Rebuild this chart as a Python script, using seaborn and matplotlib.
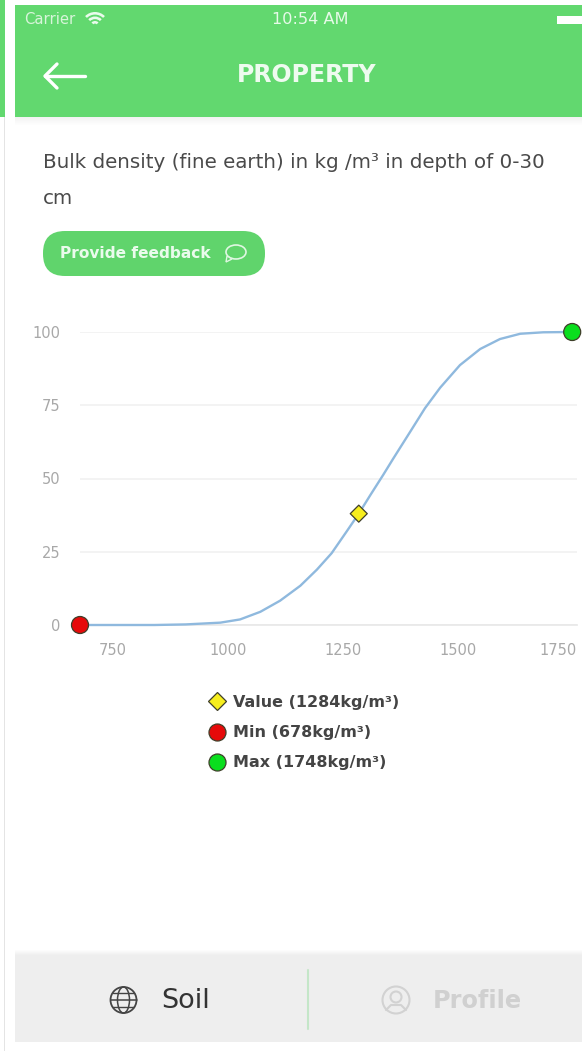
import matplotlib
matplotlib.use("Agg")
import matplotlib.pyplot as plt
from matplotlib.patches import Rectangle, FancyBboxPatch, Circle, Wedge, Ellipse, Polygon
from matplotlib.transforms import ScaledTranslation
import pandas as pd
import seaborn as sns

# curve
density = [678, 760, 840, 908, 983, 1026, 1070, 1113, 1157, 1193, 1225, 1258, 1284,
           1309, 1337, 1359, 1396, 1428, 1461, 1504, 1548, 1591, 1635, 1685, 1748]
percent = [0, 0, 0, 0.2, 0.8, 1.9, 4.5, 8.3, 13.4, 18.9, 24.5, 32, 38,
           44.3, 51.2, 56.8, 66, 74, 81, 88.7, 94.2, 97.6, 99.4, 99.9, 100]

marker_names = ["Value (1284kg/m³)", "Min (678kg/m³)", "Max (1748kg/m³)"]
marker_x = [1284, 678, 1748]
marker_y = [38, 0, 100]
marker_colors = ["#f7ee1e", "#e60a0a", "#0ade1e"]
marker_shapes = ["D", "o", "o"]
marker_sizes = [75, 150, 150]

x_ticks = [750, 1000, 1250, 1500, 1750]
y_ticks = [0, 25, 50, 75, 100]

GREEN = "#62d86f"
W, H = 582, 1051

sns.set_theme(style="white")
plt.rcParams["font.family"] = ["DejaVu Sans"]

fig = plt.figure(figsize=(W / 100, H / 100), dpi=100, facecolor="white")

# page furniture, drawn in pixel coordinates
ui = fig.add_axes([0, 0, 1, 1])
ui.set_xlim(0, W)
ui.set_ylim(H, 0)
ui.axis("off")

ui.add_patch(Rectangle((0, 0), 5, 117, color=GREEN, lw=0))
ui.add_patch(Rectangle((4, 117), 1.2, H - 117, color="#e4e4e4", lw=0))
ui.add_patch(Rectangle((15, 5), W - 15, 112, color=GREEN, lw=0))
for i in range(8):
    ui.add_patch(Rectangle((15, 117 + i), W - 15, 1, color="#000000", alpha=0.05 * (1 - i / 8), lw=0))

ui.text(24, 20, "Carrier", color="#d8f5da", fontsize=10.7, va="center", ha="left")
for r in [14, 9.5, 5]:
    ui.add_patch(Wedge((95, 26), r, 225, 315, width=2.6, color="#eafbec", lw=0))
ui.text(310, 20, "10:54 AM", color="#e6fae8", fontsize=11.6, va="center", ha="center")
ui.add_patch(Rectangle((557, 16), 25, 8, color="white", lw=0))

ui.plot([45, 85], [76, 76], color="white", lw=2.4, solid_capstyle="round")
ui.plot([57, 45, 57], [64, 76, 88], color="white", lw=2.4, solid_capstyle="round", solid_joinstyle="round")
ui.text(307, 75, "PROPERTY", color="#eefbef", fontsize=17, fontweight="bold", va="center", ha="center")

ui.text(43, 163, "Bulk density (fine earth) in kg /m³ in depth of 0-30", color="#4a4a4a", fontsize=14.3,
        va="center", ha="left")
ui.text(43, 199, "cm", color="#4a4a4a", fontsize=14.3, va="center", ha="left")

ui.add_patch(FancyBboxPatch((43 + 22, 231 + 22), 222 - 44, 1, boxstyle="round,pad=22", color="#60d46c", lw=0))
ui.text(60, 254, "Provide feedback", color="#eafbec", fontsize=11.1, fontweight="bold", va="center", ha="left")
ui.add_patch(Ellipse((236, 252), 20, 14, fill=False, ec="#dff7e2", lw=1.2))
ui.add_patch(Polygon([(227, 256), (226, 262), (232, 259)], closed=True, fc="#60d46c", ec="#dff7e2", lw=1.0))

# bottom bar
ui.add_patch(Rectangle((15, 955), W - 15, 87, color="#eeeeee", lw=0))
for i in range(5):
    ui.add_patch(Rectangle((15, 950 + i), W - 15, 1, color="#000000", alpha=0.012 * (i + 1), lw=0))
ui.plot([308, 308], [970, 1029], color="#c4e6c8", lw=1.5)

ui.add_patch(Circle((123.5, 1000), 13, fill=False, ec="#444444", lw=1.3))
ui.add_patch(Ellipse((123.5, 1000), 12, 26, fill=False, ec="#444444", lw=1.1))
ui.plot([110.5, 136.5], [1000, 1000], color="#444444", lw=1.1)
ui.plot([113, 134], [993, 993], color="#444444", lw=1.0)
ui.plot([113, 134], [1007, 1007], color="#444444", lw=1.0)
ui.text(161, 1001, "Soil", color="#333333", fontsize=19.5, va="center", ha="left")

ui.add_patch(Circle((396, 1000), 13.5, fill=False, ec="#d2d2d2", lw=1.5))
ui.add_patch(Circle((396, 997), 5.5, fill=False, ec="#d2d2d2", lw=1.5))
ui.plot([386, 391, 401, 406], [1010, 1005, 1005, 1010], color="#d2d2d2", lw=1.5)
ui.text(433, 1001, "Profile", color="#d0d0d0", fontsize=17.3, fontweight="bold", va="center", ha="left")

# chart
left, right, top, bottom = 80, 577, 332, 625
ax = fig.add_axes([left / W, 1 - bottom / H, (right - left) / W, (bottom - top) / H])
ax.patch.set_alpha(0)
curve = pd.DataFrame({"density": density, "percent": percent})
points = pd.DataFrame({"density": marker_x, "percent": marker_y, "name": marker_names})

sns.lineplot(data=curve, x="density", y="percent", color="#8fb9de", linewidth=1.7, ax=ax,
             legend=False, zorder=3, clip_on=False)
sns.scatterplot(data=points, x="density", y="percent", hue="name", style="name", size="name",
                hue_order=marker_names, style_order=marker_names, size_order=marker_names,
                palette=dict(zip(marker_names, marker_colors)),
                markers=dict(zip(marker_names, marker_shapes)),
                sizes=dict(zip(marker_names, marker_sizes)),
                edgecolor="#3f3f2a", linewidth=0.9, ax=ax, zorder=5, clip_on=False)

ax.set_xlim(678, 678 + (right - left) / 0.46)
ax.set_ylim(0, 100)
ax.set_xlabel("")
ax.set_ylabel("")
ax.set_xticks(x_ticks)
ax.set_yticks(y_ticks)
ax.tick_params(axis="x", length=3, color="#ececec", width=1, labelsize=10.5, labelcolor="#a8a8a8", pad=10)
ax.tick_params(axis="y", length=0, labelsize=10.5, labelcolor="#a8a8a8", pad=14)
ax.grid(axis="y", color="#f1f1f1", linewidth=1.2)
sns.despine(ax=ax, left=True, bottom=False, top=True, right=True)
ax.spines["bottom"].set_color("#e8e8e8")

# last label is pulled back inside the page
last = ax.get_xticklabels()[-1]
last.set_ha("right")
last.set_transform(last.get_transform() + ScaledTranslation(4 / 100, 0, fig.dpi_scale_trans))

handles, labels = ax.get_legend_handles_labels()
leg = ax.legend(handles, labels, loc="upper left",
                bbox_to_anchor=((201 - left) / (right - left), -(695 - bottom) / (bottom - top)),
                frameon=False, prop={"family": "DejaVu Sans", "weight": "bold", "size": 11.5},
                labelspacing=0.95, handletextpad=0.0, borderpad=0, borderaxespad=0, labelcolor="#444444")

fig.savefig("out.png", dpi=100)
